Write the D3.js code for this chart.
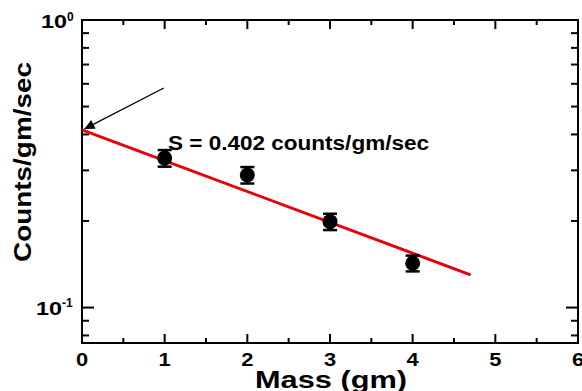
<!DOCTYPE html>
<html>
<head>
<meta charset="utf-8">
<script src="https://cdn.jsdelivr.net/npm/d3@7"></script>
<style>
  body { margin: 0; background: #fff; }
  text { font-family: Arial, "Liberation Sans", sans-serif; font-weight: bold; }
</style>
</head>
<body>
<svg id="chart" width="582" height="391"></svg>
<script>
// measured points
const mass = [1, 2, 3, 4]
const counts = [0.331, 0.289, 0.199, 0.1426]
const countErr = [0.022, 0.019, 0.013, 0.009]

// fitted exponential line, end points
const fitX = [0, 4.7]
const fitY = [0.415, 0.130]

// annotation arrow (from, to)
const arrowX = [0.99, 0.03]
const arrowY = [0.58, 0.418]

const xTicks = [0, 1, 2, 3, 4, 5, 6]
const yMajor = [0.1, 1]
const yMinor = [0.08, 0.09, 0.2, 0.3, 0.4, 0.5, 0.6, 0.7, 0.8, 0.9]

const margin = {left: 82, right: 4, top: 20, bottom: 48}
const width = 582, height = 391

const svg = d3.select("#chart")

const x = d3.scaleLinear().domain([0, 6]).range([margin.left, width - margin.right])
const y = d3.scaleLog().domain([0.0753, 1]).range([height - margin.bottom, margin.top])

const x0 = x.range()[0], x1 = x.range()[1]
const y0 = y.range()[0], y1 = y.range()[1]

// frame
svg.append("rect")
    .attr("x", x0).attr("y", y1)
    .attr("width", x1 - x0).attr("height", y0 - y1)
    .attr("fill", "none").attr("stroke", "black").attr("stroke-width", 2)

// ticks on all four sides, pointing in
const xMinor = d3.range(0.5, 6, 1)
const tickG = svg.append("g").attr("stroke", "black").attr("stroke-width", 2)
xTicks.forEach(v => {
    tickG.append("line").attr("x1", x(v)).attr("x2", x(v)).attr("y1", y0).attr("y2", y0 - 9)
    tickG.append("line").attr("x1", x(v)).attr("x2", x(v)).attr("y1", y1).attr("y2", y1 + 9)
})
xMinor.forEach(v => {
    tickG.append("line").attr("x1", x(v)).attr("x2", x(v)).attr("y1", y0).attr("y2", y0 - 5)
    tickG.append("line").attr("x1", x(v)).attr("x2", x(v)).attr("y1", y1).attr("y2", y1 + 5)
})
yMajor.forEach(v => {
    tickG.append("line").attr("x1", x0).attr("x2", x0 + 12).attr("y1", y(v)).attr("y2", y(v))
    tickG.append("line").attr("x1", x1).attr("x2", x1 - 12).attr("y1", y(v)).attr("y2", y(v))
})
yMinor.forEach(v => {
    tickG.append("line").attr("x1", x0).attr("x2", x0 + 7).attr("y1", y(v)).attr("y2", y(v))
    tickG.append("line").attr("x1", x1).attr("x2", x1 - 7).attr("y1", y(v)).attr("y2", y(v))
})

// x tick labels ("6" sits at the right edge as in the original)
svg.append("g").selectAll("text")
    .data(xTicks)
    .enter()
    .append("text")
    .attr("x", d => x(d))
    .attr("y", y0 + 23)
    .attr("text-anchor", "middle")
    .attr("font-size", "19px")
    .attr("transform", d => `translate(${x(d)},0) scale(1.15,1) translate(${-x(d)},0)`)
    .text(d => d)

// y tick labels 10^0 and 10^-1
const yLabs = svg.append("g").selectAll("text")
    .data([{v: 1, e: "0", dy: 8, sx: 41}, {v: 0.1, e: "-1", dy: 7, sx: 36}])
    .enter()
    .append("text")
    .attr("x", d => d.sx)
    .attr("y", d => y(d.v) + d.dy)
    .attr("font-size", "19px")
yLabs.append("tspan").attr("textLength", 26).attr("lengthAdjust", "spacingAndGlyphs").text("10")
yLabs.append("tspan").attr("dy", "-0.6em").attr("font-size", "12px").text(d => d.e)

// axis titles
svg.append("text")
    .attr("x", 255)
    .attr("y", 388)
    .attr("font-size", "23px")
    .attr("textLength", 152)
    .attr("lengthAdjust", "spacingAndGlyphs")
    .text("Mass (gm)")

svg.append("text")
    .attr("transform", `translate(31, 262) rotate(-90)`)
    .attr("font-size", "24px")
    .attr("textLength", 200)
    .attr("lengthAdjust", "spacingAndGlyphs")
    .text("Counts/gm/sec")

// fit line
const line = d3.line().x(d => x(d[0])).y(d => y(d[1]))
svg.append("path")
    .attr("d", line(d3.zip(fitX, fitY)))
    .attr("stroke", "#e8000b")
    .attr("stroke-width", 3)
    .attr("fill", "none")

// error bars
const errG = svg.append("g").attr("stroke", "black").attr("stroke-width", 2.5)
mass.forEach((m, i) => {
    const hi = y(counts[i] + countErr[i]), lo = y(counts[i] - countErr[i])
    errG.append("line").attr("x1", x(m)).attr("x2", x(m)).attr("y1", hi).attr("y2", lo)
    errG.append("line").attr("x1", x(m) - 7).attr("x2", x(m) + 7).attr("y1", hi).attr("y2", hi)
    errG.append("line").attr("x1", x(m) - 7).attr("x2", x(m) + 7).attr("y1", lo).attr("y2", lo)
})

// points
svg.append("g").selectAll("circle")
    .data(d3.zip(mass, counts))
    .enter()
    .append("circle")
    .attr("cx", d => x(d[0]))
    .attr("cy", d => y(d[1]))
    .attr("r", 7.5)
    .attr("fill", "black")

// annotation
svg.append("text")
    .attr("x", 168)
    .attr("y", 150)
    .attr("font-size", "20px")
    .attr("textLength", 261)
    .attr("lengthAdjust", "spacingAndGlyphs")
    .text("S = 0.402 counts/gm/sec")

// arrow
svg.append("defs").append("marker")
    .attr("id", "head")
    .attr("viewBox", "0 0 10 10")
    .attr("refX", 10).attr("refY", 5)
    .attr("markerWidth", 13).attr("markerHeight", 10)
    .attr("markerUnits", "userSpaceOnUse")
    .attr("orient", "auto")
    .append("path")
    .attr("d", "M0,0 L10,5 L0,10 Z")
    .attr("fill", "black")

svg.append("line")
    .attr("x1", x(arrowX[0])).attr("y1", y(arrowY[0]))
    .attr("x2", x(arrowX[1])).attr("y2", y(arrowY[1]))
    .attr("stroke", "black")
    .attr("stroke-width", 1.3)
    .attr("marker-end", "url(#head)")
</script>
</body>
</html>
